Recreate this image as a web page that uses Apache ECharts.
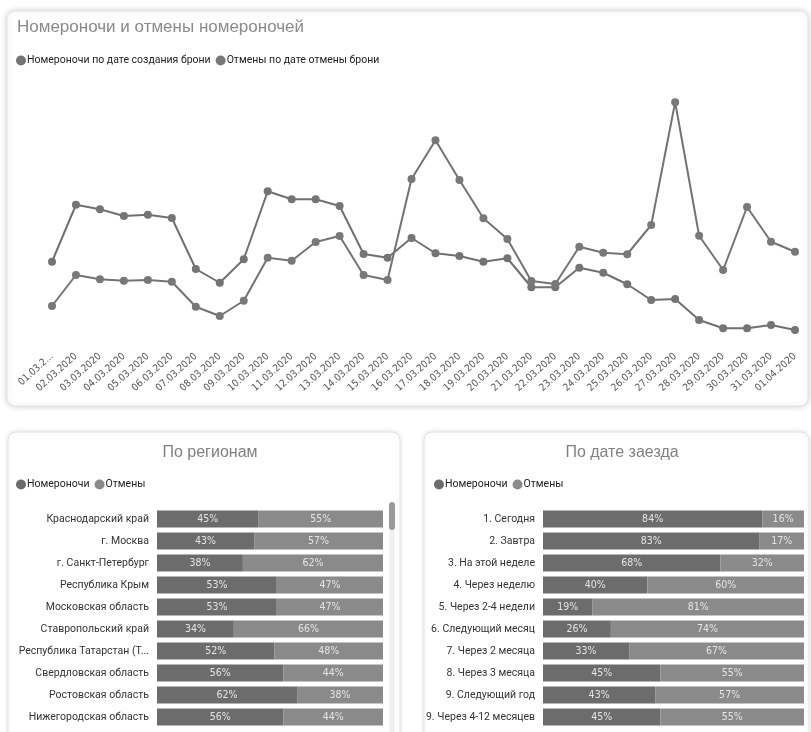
<!DOCTYPE html>
<html><head><meta charset="utf-8">
<script src="https://cdn.jsdelivr.net/npm/echarts@6/dist/echarts.min.js"></script>
<style>html,body{margin:0;padding:0;background:#fff;}#c{width:811px;height:732px;}</style>
</head><body><div id="c"></div>
<script>
const dates = ['01.03.2020','02.03.2020','03.03.2020','04.03.2020','05.03.2020','06.03.2020','07.03.2020','08.03.2020','09.03.2020','10.03.2020','11.03.2020','12.03.2020','13.03.2020','14.03.2020','15.03.2020','16.03.2020','17.03.2020','18.03.2020','19.03.2020','20.03.2020','21.03.2020','22.03.2020','23.03.2020','24.03.2020','25.03.2020','26.03.2020','27.03.2020','28.03.2020','29.03.2020','30.03.2020','31.03.2020','01.04.2020'];
const bookings = [34.1,56.9,55.1,52.4,52.9,51.6,31.2,25.7,35.1,62.3,59.1,59.1,56.4,37.2,35.7,43.6,37.5,36.4,34.1,35.5,23.9,23.9,31.7,29.7,25.1,18.8,19.2,10.8,7.5,7.5,8.8,6.8];
const cancels = [16.4,28.8,27.1,26.5,26.8,26.1,16.1,12.4,18.5,35.7,34.5,42.0,44.4,28.8,26.8,67.2,82.7,66.8,51.5,43.2,26.4,25.2,40.1,37.7,37.1,48.8,97.9,44.5,30.8,56.0,42.1,38.1];

const regions = ['Краснодарский край','г. Москва','г. Санкт-Петербург','Республика Крым','Московская область','Ставропольский край','Республика Татарстан (Т...','Свердловская область','Ростовская область','Нижегородская область'];
const regionBookings = [45,43,38,53,53,34,52,56,62,56];
const regionCancels = [55,57,62,47,47,66,48,44,38,44];

const arrivals = ['1. Сегодня','2. Завтра','3. На этой неделе','4. Через неделю','5. Через 2-4 недели','6. Следующий месяц','7. Через 2 месяца','8. Через 3 месяца','9. Следующий год','9. Через 4-12 месяцев'];
const arrivalBookings = [84,83,68,40,19,26,33,45,43,45];
const arrivalCancels = [16,17,32,60,81,74,67,55,57,55];

const C1 = '#6c6c6c', C2 = '#8a8a8a';
const cond = '"DejaVu Sans Condensed", "Roboto", sans-serif';
const sans = 'Roboto, "Liberation Sans", sans-serif';
const title = '"Liberation Sans", Roboto, sans-serif';

const chart = echarts.init(document.getElementById('c'));

function barLabel(){ return {show:true, position:'inside', color:'#e4e4e4', fontSize:10.5, fontFamily:cond, formatter:p=>p.value+'%'}; }
function legendText(){ return {fontSize:10.5, color:'#222', fontFamily:sans, padding:[0,0,0,-4]}; }

chart.setOption({
  animation:false,
  backgroundColor:'#fff',
  graphic:[
    {type:'rect', z:-10, shape:{x:7,y:11,width:801,height:395,r:8}, style:{fill:'#fff',stroke:'#e4e4e4',lineWidth:1,shadowBlur:6,shadowColor:'rgba(0,0,0,0.18)'}},
    {type:'rect', z:-10, shape:{x:8,y:432,width:392,height:320,r:8}, style:{fill:'#fff',stroke:'#e4e4e4',lineWidth:1,shadowBlur:5,shadowColor:'rgba(0,0,0,0.12)'}},
    {type:'rect', z:-10, shape:{x:424,y:432,width:385,height:320,r:8}, style:{fill:'#fff',stroke:'#e4e4e4',lineWidth:1,shadowBlur:5,shadowColor:'rgba(0,0,0,0.12)'}},
    {type:'rect', z:5, shape:{x:389,y:502,width:6,height:28,r:3}, style:{fill:'#9a9a9a'}},
    {type:'line', z:4, shape:{x1:392,y1:530,x2:392,y2:732}, style:{stroke:'#eeeeee',lineWidth:5}}
  ],
  title:[
    {text:'Номероночи и отмены номероночей', left:12, top:14, textStyle:{fontSize:17,fontWeight:'normal',color:'#8a8a8a',fontFamily:title}},
    {text:'По регионам', left:205, textAlign:'center', top:440, textStyle:{fontSize:16,fontWeight:'normal',color:'#808080',fontFamily:title}},
    {text:'По дате заезда', left:617, textAlign:'center', top:440, textStyle:{fontSize:16,fontWeight:'normal',color:'#808080',fontFamily:title}}
  ],
  legend:[
    {left:11, top:50, itemGap:5, itemWidth:10, itemHeight:10, icon:'circle', textStyle:legendText(), data:['Номероночи по дате создания брони','Отмены по дате отмены брони']},
    {left:11, top:474, itemGap:5, itemWidth:10, itemHeight:10, icon:'circle', textStyle:legendText(), data:['Номероночи','Отмены']},
    {left:429, top:474, itemGap:5, itemWidth:10, itemHeight:10, icon:'circle', textStyle:legendText(), data:['Номероночи','Отмены']}
  ],
  grid:[
    {left:52, right:16, top:97, height:250, outerBoundsMode:'none'},
    {left:157, right:428, top:508, height:220, outerBoundsMode:'none'},
    {left:543, right:7, top:508, height:220, outerBoundsMode:'none'}
  ],
  xAxis:[
    {type:'category', gridIndex:0, data:dates, boundaryGap:false, axisLine:{show:false}, axisTick:{show:false}, splitLine:{show:false},
     axisLabel:{rotate:42, interval:0, margin:8, fontSize:10, color:'#555', fontFamily:cond, formatter:(v,i)=> i===0 ? v.slice(0,7)+'...' : v}},
    {type:'value', gridIndex:1, min:0, max:100, show:false},
    {type:'value', gridIndex:2, min:0, max:100, show:false}
  ],
  yAxis:[
    {type:'value', gridIndex:0, min:0, max:100, show:false},
    {type:'category', gridIndex:1, data:regions, inverse:true, axisLine:{show:false}, axisTick:{show:false}, axisLabel:{margin:8, fontSize:10.5, color:'#333', fontFamily:sans}},
    {type:'category', gridIndex:2, data:arrivals, inverse:true, axisLine:{show:false}, axisTick:{show:false}, axisLabel:{margin:8, fontSize:10.5, color:'#333', fontFamily:sans}}
  ],
  series:[
    {name:'Номероночи по дате создания брони', type:'line', xAxisIndex:0, yAxisIndex:0, data:bookings, symbol:'circle', symbolSize:8, color:'#707070', lineStyle:{width:2,color:'#707070'}, itemStyle:{color:'#747474'}},
    {name:'Отмены по дате отмены брони', type:'line', xAxisIndex:0, yAxisIndex:0, data:cancels, symbol:'circle', symbolSize:8, color:'#7a7a7a', lineStyle:{width:2,color:'#737373'}, itemStyle:{color:'#787878'}},
    {name:'Номероночи', type:'bar', stack:'r', xAxisIndex:1, yAxisIndex:1, data:regionBookings, barWidth:17, color:C1, itemStyle:{color:C1}, label:barLabel()},
    {name:'Отмены', type:'bar', stack:'r', xAxisIndex:1, yAxisIndex:1, data:regionCancels, barWidth:17, color:C2, itemStyle:{color:C2}, label:barLabel()},
    {name:'Номероночи', type:'bar', stack:'a', xAxisIndex:2, yAxisIndex:2, data:arrivalBookings, barWidth:17, color:C1, itemStyle:{color:C1}, label:barLabel()},
    {name:'Отмены', type:'bar', stack:'a', xAxisIndex:2, yAxisIndex:2, data:arrivalCancels, barWidth:17, color:C2, itemStyle:{color:C2}, label:barLabel()}
  ]
});
</script></body></html>
